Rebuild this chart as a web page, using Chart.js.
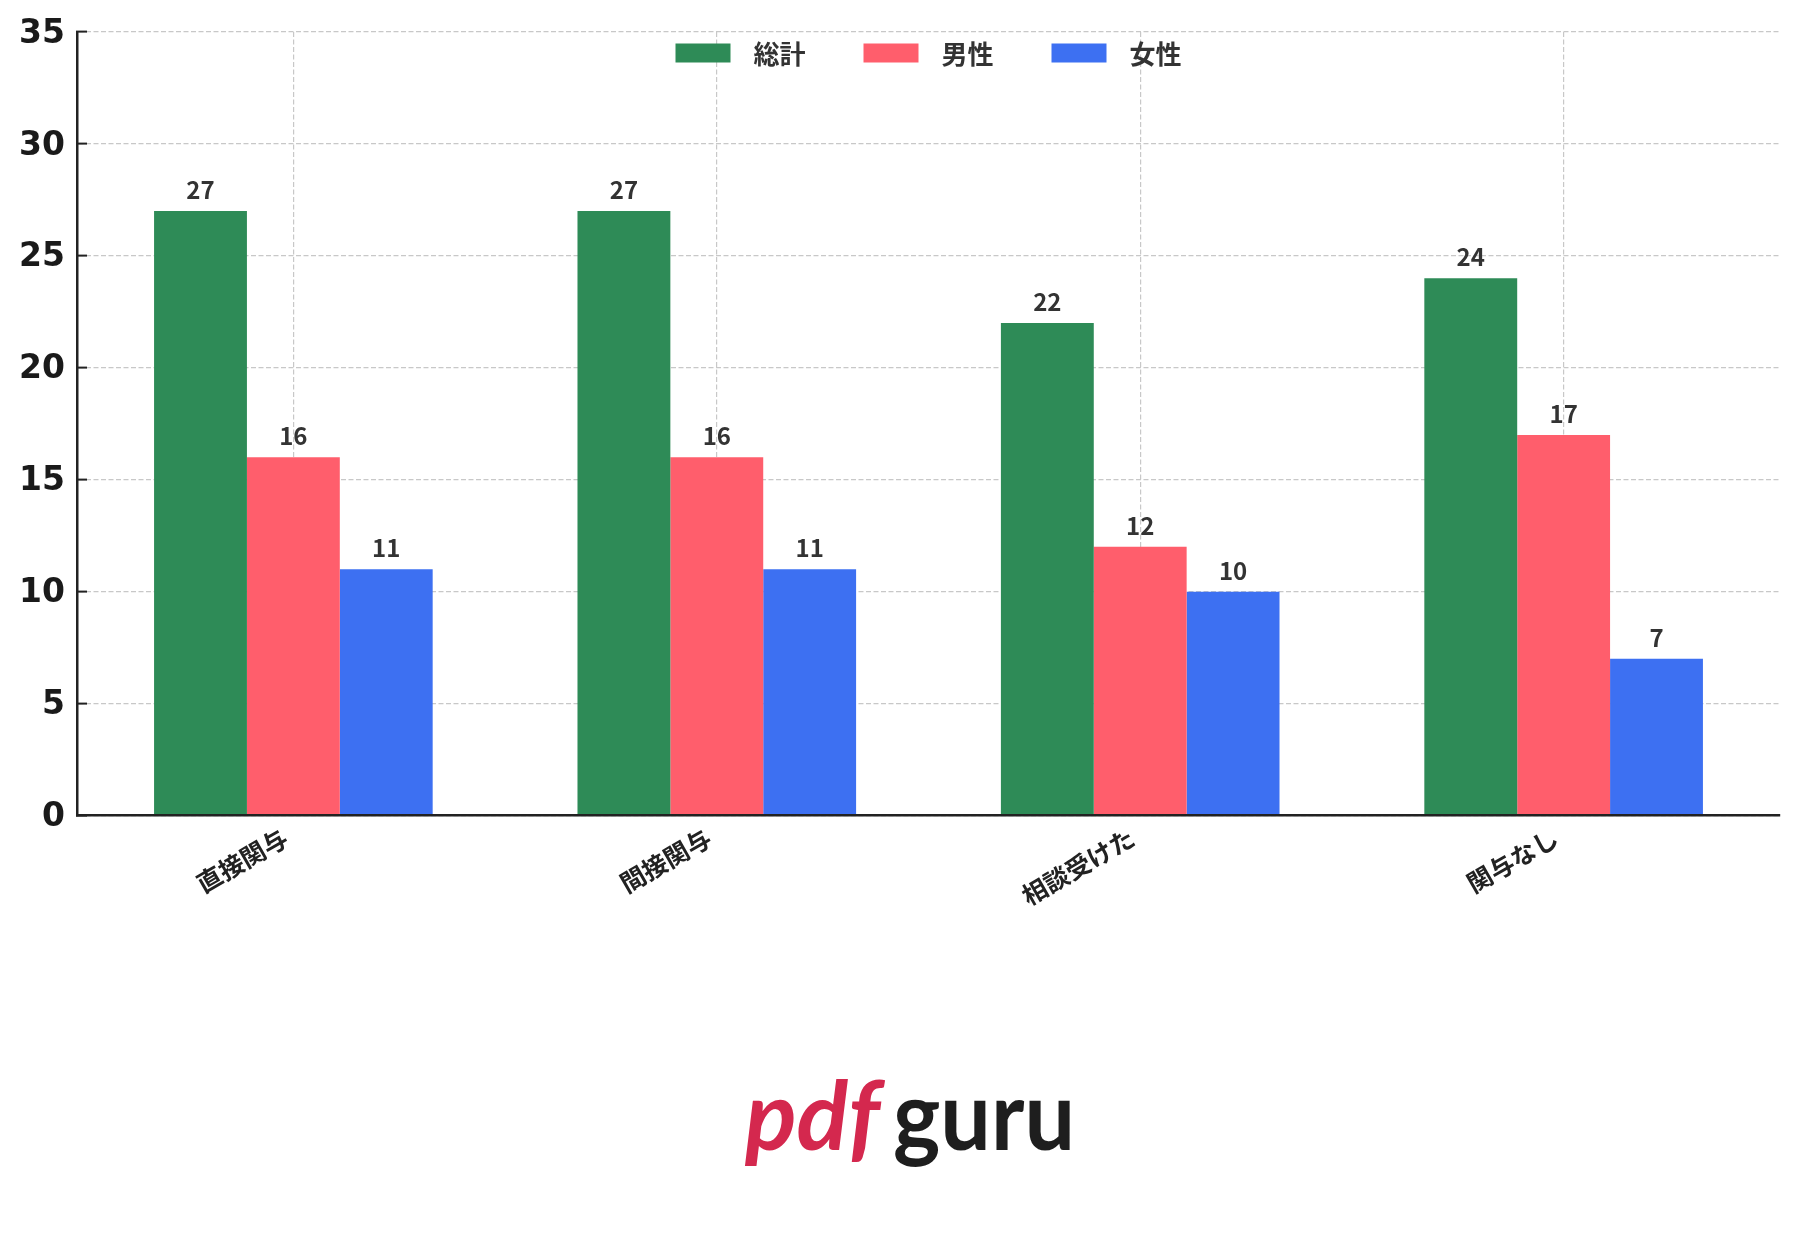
<!DOCTYPE html>
<html>
<head>
<meta charset="utf-8">
<script src="https://cdn.jsdelivr.net/npm/chart.js@4.4.0/dist/chart.umd.min.js"></script>
<style>
  html, body { margin: 0; padding: 0; background: #fff; }
  #wrap { position: relative; width: 1801px; height: 1242px; }
</style>
</head>
<body>
<div id="wrap"><canvas id="myChart" width="1801" height="1242"></canvas></div>
<script>
const categories = ['直接関与', '間接関与', '相談受けた', '関与なし'];
const seriesNames = ['総計', '男性', '女性'];
const totalValues = [27, 27, 22, 24];
const maleValues = [16, 16, 12, 17];
const femaleValues = [11, 11, 10, 7];
const yTicks = [0, 5, 10, 15, 20, 25, 30, 35];
const seriesColors = ['#2e8b57', '#ff5e6c', '#3d70f2'];

const jpFont = '"Noto Sans CJK JP", "Noto Sans", sans-serif';

// a bit more room at both ends of the category axis (like mpl margins)
const xSpread = {
  id: 'xSpread',
  afterLayout(chart) {
    const s = chart.scales.x;
    s._startValue = -0.511;
    s._valueRange = categories.length + 0.022;
  }
};

// numbers above every bar
const valueLabels = {
  id: 'valueLabels',
  afterDatasetsDraw(chart) {
    const ctx = chart.ctx;
    ctx.save();
    ctx.font = 'bold 24px ' + jpFont;
    ctx.fillStyle = '#333333';
    ctx.textAlign = 'center';
    ctx.textBaseline = 'alphabetic';
    chart.data.datasets.forEach((ds, i) => {
      chart.getDatasetMeta(i).data.forEach((bar, j) => {
        ctx.fillText(String(ds.data[j]), bar.x, bar.y - 12);
      });
    });
    ctx.restore();
  }
};

// legend sits inside the plot, top centre
const insideLegend = {
  id: 'insideLegend',
  afterDraw(chart) {
    const ctx = chart.ctx;
    const area = chart.chartArea;
    const boxW = 55, boxH = 19, gapText = 23, gapItem = 58;
    ctx.save();
    ctx.font = 'bold 26px ' + jpFont;
    const items = chart.data.datasets.map(ds => ({
      label: ds.label, color: ds.backgroundColor, w: ctx.measureText(ds.label).width
    }));
    let total = 0;
    items.forEach((it, i) => { total += boxW + gapText + it.w + (i ? gapItem : 0); });
    let x = (area.left + area.right) / 2 - total / 2;
    const cy = 53;
    items.forEach(it => {
      ctx.fillStyle = it.color;
      ctx.fillRect(x, cy - boxH / 2, boxW, boxH);
      ctx.fillStyle = '#333333';
      ctx.textAlign = 'left';
      ctx.textBaseline = 'middle';
      ctx.fillText(it.label, x + boxW + gapText, cy + 1);
      x += boxW + gapText + it.w + gapItem;
    });
    ctx.restore();
  }
};

// watermark under the chart
const logo = {
  id: 'logo',
  afterDraw(chart) {
    const ctx = chart.ctx;
    ctx.save();
    ctx.textAlign = 'left';
    ctx.textBaseline = 'alphabetic';
    ctx.font = 'italic bold 96px Lato, sans-serif';
    ctx.fillStyle = '#d4284e';
    ctx.fillText('pdf', 745, 1150, 135);
    ctx.font = 'bold 96px Lato, sans-serif';
    ctx.fillStyle = '#1e1e1e';
    ctx.fillText('guru', 893, 1150, 182);
    ctx.restore();
  }
};

const ctx = document.getElementById('myChart').getContext('2d');
const myChart = new Chart(ctx, {
  type: 'bar',
  data: {
    labels: categories,
    datasets: [
      { label: seriesNames[0], data: totalValues, backgroundColor: seriesColors[0] },
      { label: seriesNames[1], data: maleValues, backgroundColor: seriesColors[1] },
      { label: seriesNames[2], data: femaleValues, backgroundColor: seriesColors[2] }
    ]
  },
  options: {
    responsive: false,
    animation: false,
    devicePixelRatio: 1,
    layout: { padding: { top: 32, right: 21, left: 0, bottom: 0 } },
    datasets: {
      bar: { categoryPercentage: 0.658, barPercentage: 1.0, borderWidth: 0 }
    },
    plugins: {
      legend: { display: false },
      tooltip: { enabled: false }
    },
    scales: {
      x: {
        offset: true,
        afterFit: (scale) => { scale.height = 426.5; scale.paddingLeft = 0; scale.paddingRight = 0; },
        grid: { offset: false, drawTicks: false, color: '#c8c8c8', lineWidth: 1.2 },
        border: { display: true, color: '#222222', width: 2.5, dash: [5, 2.5], z: 1 },
        ticks: {
          maxRotation: 30, minRotation: 30, padding: 7, labelOffset: -8,
          color: '#222222',
          font: { family: jpFont, size: 25, weight: 'bold' }
        }
      },
      y: {
        min: 0, max: 35,
        afterFit: (scale) => { scale.width = 77; scale.paddingTop = 0; scale.paddingBottom = 0; },
        afterBuildTicks: (scale) => { scale.ticks = yTicks.map(v => ({ value: v })); },
        grid: { color: '#c8c8c8', lineWidth: 1.2, drawTicks: true, tickLength: -10, tickColor: '#222222', tickWidth: 2 },
        border: { display: true, color: '#222222', width: 2.5, dash: [5, 2.5], z: 1 },
        ticks: {
          padding: 22, labelOffset: 2,
          color: '#1a1a1a',
          font: { family: '"DejaVu Sans", sans-serif', size: 33, weight: 'bold' }
        }
      }
    }
  },
  plugins: [xSpread, valueLabels, insideLegend, logo]
});
</script>
</body>
</html>
